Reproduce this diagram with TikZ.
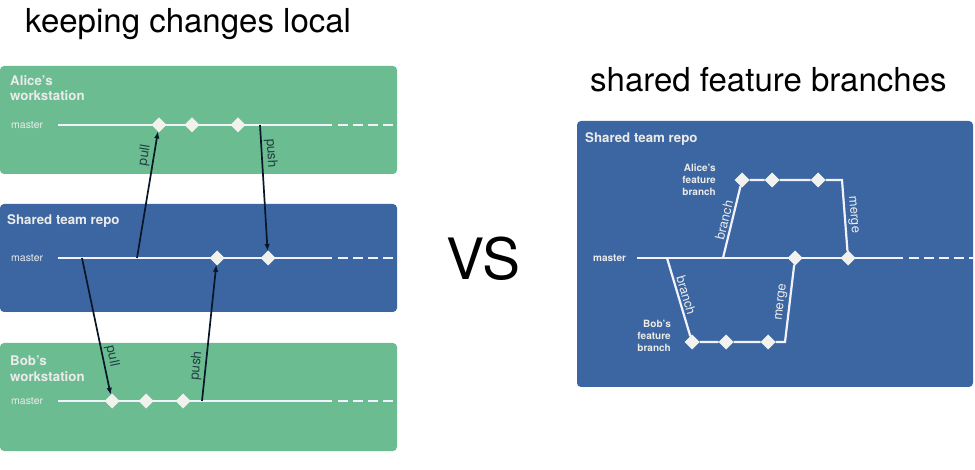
\documentclass[tikz,border=0pt]{standalone}
\usepackage{fontspec}
\setmainfont{TeX Gyre Heros}
\usetikzlibrary{shapes.geometric, arrows.meta}

\definecolor{wsgreen}{HTML}{6CBC92}
\definecolor{repoblue}{HTML}{3C66A1}
\definecolor{commitwhite}{HTML}{F1F2EE}
\definecolor{arrowdark}{HTML}{081628}

\tikzset{
  panel/.style={rounded corners=4pt},
  paneltitle/.style={anchor=north west, inner sep=0pt, align=left,
    text=white!92!black, font=\bfseries\fontsize{13.3}{15.7}\selectfont},
  masterlabel/.style={anchor=base west, inner sep=0pt, text=white!92!black,
    font=\fontsize{10.5}{12}\selectfont},
  trunk/.style={draw=white!95!blue, line width=2.2pt},
  tail/.style={trunk, dash pattern=on 10pt off 5pt},
  commit/.style={diamond, fill=commitwhite, inner sep=0pt, outer sep=0pt,
    minimum size=15pt},
  syncarrow/.style={draw=arrowdark, line width=1.7pt,
    -{Latex[length=7pt,width=5.5pt]}},
  synclabel/.style={sloped, above, inner sep=2pt, text=arrowdark!75!wsgreen,
    font=\fontsize{13.5}{15}\selectfont},
  flowlabel/.style={sloped, above, inner sep=2pt, text=white!92!black,
    font=\fontsize{13}{15}\selectfont},
  featurelabel/.style={anchor=east, inner sep=0pt, align=right,
    text=white!92!black, font=\bfseries\fontsize{10}{12}\selectfont}
}

\begin{document}
\begin{tikzpicture}[x=1pt, y=-1pt]
\useasboundingbox (0,0) rectangle (975,470);
% Titles
\node [anchor=base west, inner sep=0pt, font=\fontsize{33}{40}\selectfont]
  (titlelocal) at (25,33) {keeping changes local};
\node [anchor=base west, inner sep=0pt, font=\fontsize{33}{40}\selectfont]
  (titleshared) at (590,92) {shared feature branches};
\node [anchor=base west, inner sep=0pt, font=\fontsize{57}{60}\selectfont]
  (versus) at (446,280) {VS};
% Left side: three panels
\fill [panel, wsgreen] (0,66) rectangle (397,174);
\fill [panel, repoblue] (0,204) rectangle (397,312);
\fill [panel, wsgreen] (0,343) rectangle (397,451);
\node [paneltitle] (alicews) at (10,75) {Alice's\\workstation};
\node [paneltitle] (teamrepo) at (7,214) {Shared team repo};
\node [paneltitle] (bobws) at (10,356) {Bob's\\workstation};
% Master lines, solid then dashed
\foreach \y/\n in {125/a, 258/s, 401/b} {
  \node [masterlabel] (\n master) at (11,\y+4) {master};
  \coordinate (\n start) at (58,\y);
  \coordinate (\n solid) at (332,\y);
  \coordinate (\n end) at (397,\y);
  \draw [trunk] (\n start) -- (\n solid);
  \draw [tail] ([xshift=6pt]\n solid) -- (\n end);
}
% Points where the arrows leave a master line
\coordinate (apullbase) at (137,258);
\coordinate (apushbase) at (260,125);
\coordinate (bpullbase) at (82,258);
\coordinate (bpushbase) at (202,401);
% Commits
\node [commit] (a1) at (159,125) {};
\node [commit] (a2) at (192,125) {};
\node [commit] (a3) at (238,125) {};
\node [commit] (s1) at (217,258) {};
\node [commit] (s2) at (268,258) {};
\node [commit] (b1) at (112,401) {};
\node [commit] (b2) at (146,401) {};
\node [commit] (b3) at (183,401) {};
% Pull and push arrows
\draw [syncarrow] (apullbase) -- node[synclabel, pos=.8] {pull} (a1);
\draw [syncarrow] (apushbase) -- node[synclabel, pos=.23] {push} (s2);
\draw [syncarrow] (bpullbase) -- node[synclabel, pos=.73] {pull} (b1);
\draw [syncarrow] (bpushbase) -- node[synclabel, pos=.25] {push} (s1);
% Right side: one shared repo
\fill [panel, repoblue] (577,121) rectangle (973,387);
\node [paneltitle] (sharedrepo) at (585,132) {Shared team repo};
\node [masterlabel, font=\bfseries\fontsize{10}{12}\selectfont]
  (rmaster) at (593,262) {master};
\coordinate (rstart) at (637,258);
\coordinate (rsolid) at (903,258);
\coordinate (rend) at (973,258);
\draw [trunk] (rstart) -- (rsolid);
\draw [tail] ([xshift=6pt]rsolid) -- (rend);
% Where the feature branches leave and turn
\coordinate (afork) at (723,258);
\coordinate (acorner) at (842,180);
\coordinate (bfork) at (667,258);
\coordinate (bcorner) at (785,342);
% Commits on master and on the two feature branches
\node [commit] (m1) at (795,258) {};
\node [commit] (m2) at (848,258) {};
\node [commit] (f1) at (742,180) {};
\node [commit] (f2) at (772,180) {};
\node [commit] (f3) at (818,180) {};
\node [commit] (g1) at (692,342) {};
\node [commit] (g2) at (726,342) {};
\node [commit] (g3) at (768,342) {};
% Alice's feature branch
\draw [trunk] (afork) -- node[flowlabel] {branch} (f1) -- (f2) -- (f3)
  -- (acorner) -- node[flowlabel] {merge} (m2);
% Bob's feature branch
\draw [trunk] (bfork) -- node[flowlabel] {branch} (g1) -- (g2) -- (g3)
  -- (bcorner) -- node[flowlabel] {merge} (m1);
\node [featurelabel] (alicefeature) at (716,180) {Alice's\\feature\\branch};
\node [featurelabel] (bobfeature) at (671,336) {Bob's\\feature\\branch};
\end{tikzpicture}
\end{document}
